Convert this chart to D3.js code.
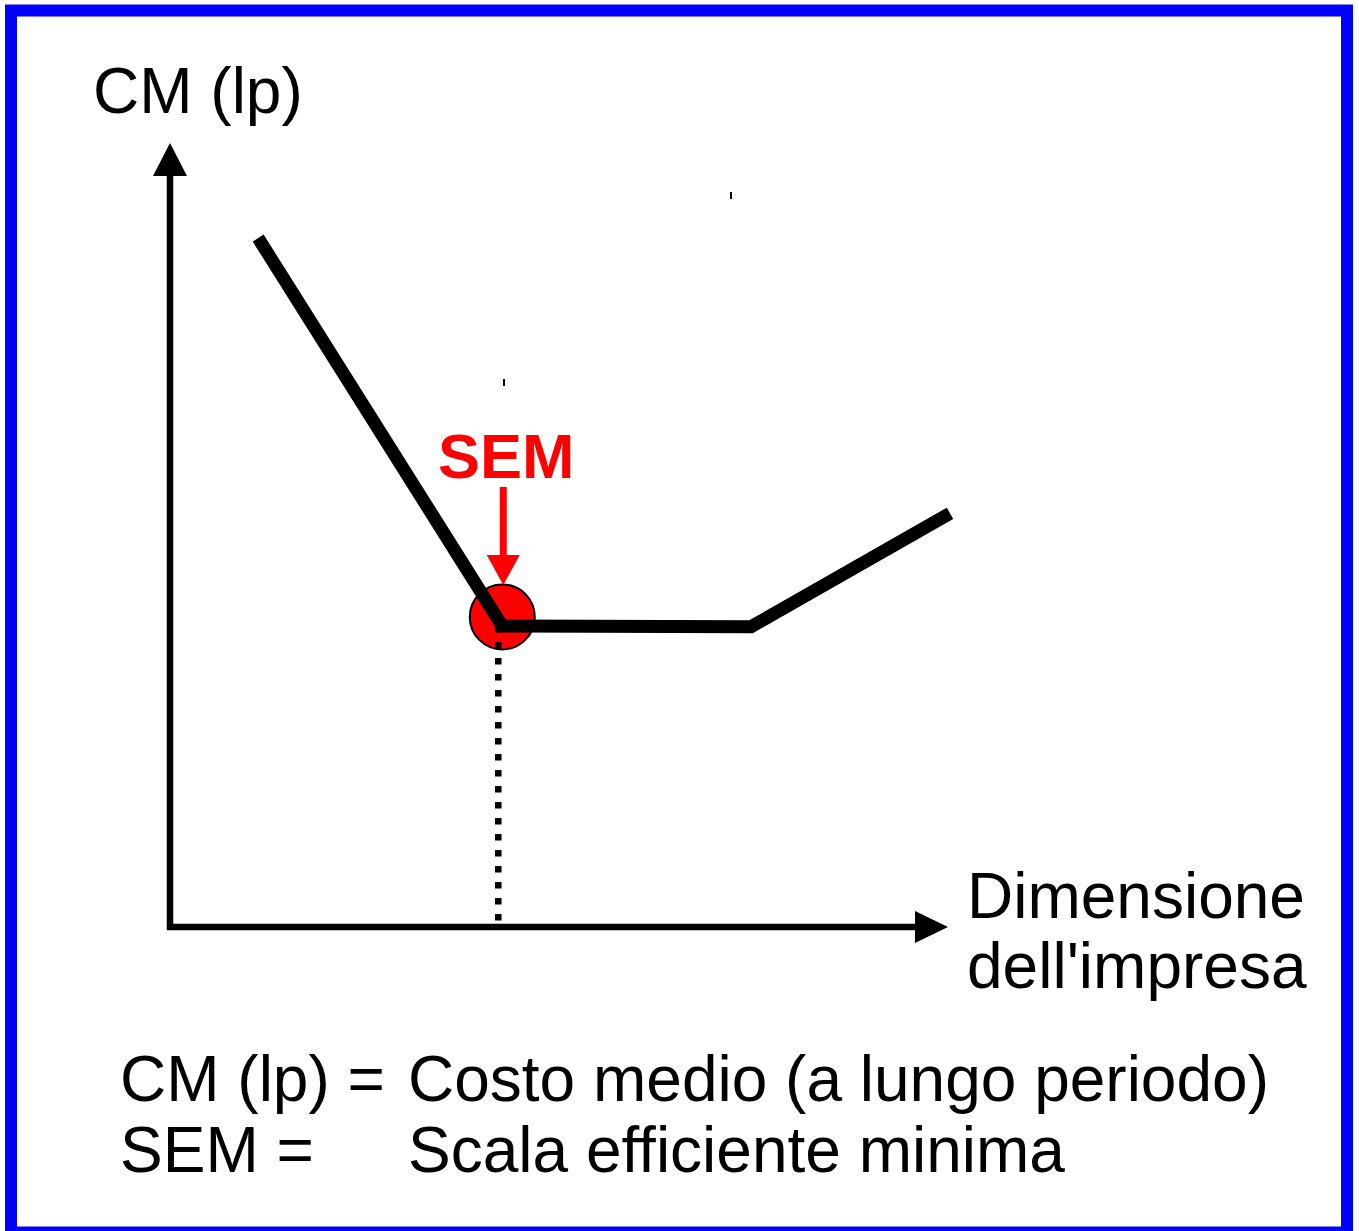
<!DOCTYPE html>
<html>
<head>
<meta charset="utf-8">
<script src="https://cdn.jsdelivr.net/npm/d3@7"></script>
<style>
  html, body { margin: 0; padding: 0; background: #fff; }
  svg { display: block; font-family: "Liberation Sans", Arial, sans-serif; }
</style>
</head>
<body>
<svg id="chart" width="1359" height="1231"></svg>
<script>
// Long-run average cost curve: firm size vs. average cost
const sizes = [11.3, 42.6, 74.5, 100];
const costs = [88.1, 38.5, 38.4, 52.9];
const semSize = 42.6;          // minimum efficient scale
const semCost = 38.5;
const axisLabels = { y: "CM (lp)", x: ["Dimensione", "dell'impresa"] };
const legendKeys = ["CM (lp) =", "SEM ="];
const legendDefs = ["Costo medio (a lungo periodo)", "Scala efficiente minima"];

const svg = d3.select("#chart");

// frame
svg.append("rect")
  .attr("x", 11).attr("y", 10.5).attr("width", 1336).attr("height", 1222)
  .attr("fill", "#fff").attr("stroke", "#0000ff").attr("stroke-width", 12);

const x = d3.scaleLinear().domain([0, 100]).range([170, 950]);
const y = d3.scaleLinear().domain([0, 100]).range([927, 145]);

// axes with arrow heads
svg.append("line")
  .attr("x1", x(0)).attr("y1", y(0) + 3).attr("x2", x(0)).attr("y2", 176)
  .attr("stroke", "#000").attr("stroke-width", 6.5);
svg.append("path")
  .attr("d", `M${x(0) - 17},176 L${x(0) + 17},176 L${x(0)},143 Z`)
  .attr("fill", "#000");
svg.append("line")
  .attr("x1", x(0) - 3).attr("y1", y(0)).attr("x2", 916).attr("y2", y(0))
  .attr("stroke", "#000").attr("stroke-width", 6.5);
svg.append("path")
  .attr("d", `M915,${y(0) - 16} L915,${y(0) + 16} L948,${y(0)} Z`)
  .attr("fill", "#000");

// SEM marker circle (drawn beneath the curve)
svg.append("circle")
  .attr("cx", x(semSize)).attr("cy", y(semCost) - 9).attr("r", 32.5)
  .attr("fill", "#ff0000").attr("stroke", "#000").attr("stroke-width", 2);

// cost curve
const line = d3.line().x((d, i) => x(sizes[i])).y(d => y(d));
svg.append("path")
  .attr("d", line(costs))
  .attr("fill", "none").attr("stroke", "#000").attr("stroke-width", 13)
  .attr("stroke-linejoin", "miter").attr("stroke-linecap", "butt");

// dotted drop line to the size axis
svg.append("line")
  .attr("x1", x(semSize) - 4).attr("y1", y(semCost))
  .attr("x2", x(semSize) - 4).attr("y2", y(0) - 6)
  .attr("stroke", "#000").attr("stroke-width", 6.5)
  .attr("stroke-dasharray", "6.5,9.5");

// SEM label and red pointer
svg.append("text")
  .attr("x", x(semSize) + 4).attr("y", 478)
  .attr("text-anchor", "middle")
  .attr("font-size", 63).attr("font-weight", "bold")
  .attr("fill", "#ff0000").text("SEM");
svg.append("line")
  .attr("x1", x(semSize) + 1).attr("y1", 487)
  .attr("x2", x(semSize) + 1).attr("y2", 556)
  .attr("stroke", "#ff0000").attr("stroke-width", 7);
svg.append("path")
  .attr("d", `M${x(semSize) - 15.5},555 L${x(semSize) + 17.5},555 L${x(semSize) + 1},585 Z`)
  .attr("fill", "#ff0000");

// small stray ticks
svg.append("rect").attr("x", 730).attr("y", 192).attr("width", 2).attr("height", 7).attr("fill", "#000");
svg.append("rect").attr("x", 503).attr("y", 379).attr("width", 2).attr("height", 7).attr("fill", "#000");

// axis titles
svg.append("text")
  .attr("x", 93).attr("y", 113)
  .attr("font-size", 64).attr("fill", "#000").text(axisLabels.y);
svg.append("text")
  .attr("x", 967).attr("y", 918)
  .attr("font-size", 64).attr("fill", "#000")
  .selectAll("tspan").data(axisLabels.x).join("tspan")
  .attr("x", 967).attr("dy", (d, i) => i === 0 ? 0 : 70)
  .text(d => d);

// legend
const legend = svg.append("g");
legend.selectAll("text.key").data(legendKeys).join("text")
  .attr("class", "key")
  .attr("x", 120).attr("y", (d, i) => 1101 + i * 71)
  .attr("font-size", 64).attr("fill", "#000").text(d => d);
legend.selectAll("text.def").data(legendDefs).join("text")
  .attr("class", "def")
  .attr("x", 408).attr("y", (d, i) => 1101 + i * 71)
  .attr("font-size", 64).attr("fill", "#000").text(d => d);
</script>
</body>
</html>
